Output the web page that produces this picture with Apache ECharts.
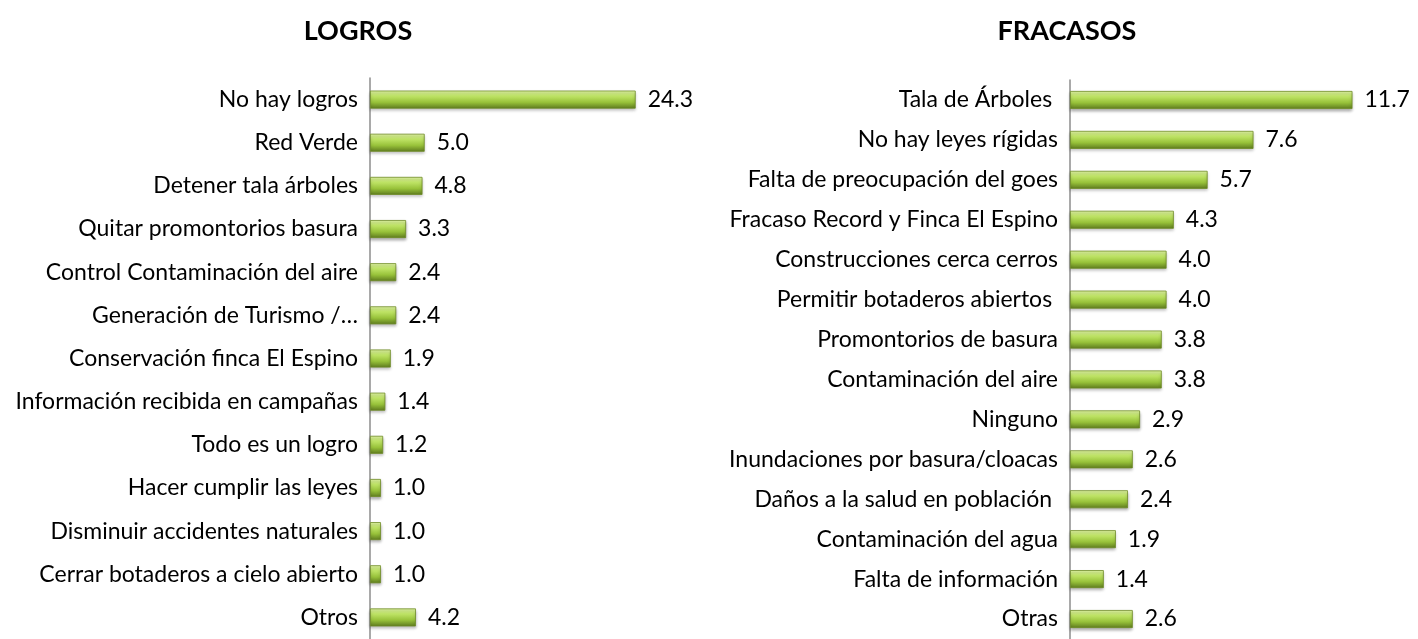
<!DOCTYPE html>
<html>
<head>
<meta charset="utf-8">
<script src="https://cdn.jsdelivr.net/npm/echarts@6/dist/echarts.min.js"></script>
<style>
  html, body { margin: 0; padding: 0; background: #fff; }
  #chart { width: 1418px; height: 639px; }
</style>
</head>
<body>
<div id="chart"></div>
<script>
// datos
const logrosCats = [
  'No hay logros', 'Red Verde', 'Detener tala árboles', 'Quitar promontorios basura',
  'Control Contaminación del aire', 'Generación de Turismo /…', 'Conservación finca El Espino',
  'Información recibida en campañas', 'Todo es un logro', 'Hacer cumplir las leyes',
  'Disminuir accidentes naturales', 'Cerrar botaderos a cielo abierto', 'Otros'
]
const logrosVals = [24.3, 5.0, 4.8, 3.3, 2.4, 2.4, 1.9, 1.4, 1.2, 1.0, 1.0, 1.0, 4.2]

const fracasosCats = [
  'Tala de Árboles ', 'No hay leyes rígidas', 'Falta de preocupación del goes',
  'Fracaso Record y Finca El Espino', 'Construcciones cerca cerros', 'Permitir botaderos abiertos ',
  'Promontorios de basura', 'Contaminación del aire', 'Ninguno', 'Inundaciones por basura/cloacas',
  'Daños a la salud en población ', 'Contaminación del agua', 'Falta de información', 'Otras'
]
const fracasosVals = [11.7, 7.6, 5.7, 4.3, 4.0, 4.0, 3.8, 3.8, 2.9, 2.6, 2.4, 1.9, 1.4, 2.6]

const chart = echarts.init(document.getElementById('chart'))

const FONT = 'Lato'

// relleno tipo 3D de Excel
const barColor = new echarts.graphic.LinearGradient(0, 0, 0, 1, [
  { offset: 0, color: '#e4f8a8' },
  { offset: 0.3, color: '#bfe466' },
  { offset: 0.65, color: '#98c23a' },
  { offset: 1, color: '#5d7a1e' }
])

const makeSeries = (vals, idx) => ({
  type: 'bar',
  xAxisIndex: idx,
  yAxisIndex: idx,
  data: vals,
  barWidth: 18,
  itemStyle: {
    color: barColor,
    borderColor: '#6e8c26',
    borderWidth: 0.8,
    shadowColor: 'rgba(0,0,0,0.3)',
    shadowBlur: 3,
    shadowOffsetY: 2
  },
  label: {
    show: true,
    position: 'right',
    distance: 12,
    formatter: p => p.value.toFixed(1),
    fontFamily: FONT,
    fontSize: 23,
    color: '#000'
  }
})

const catAxis = (cats, idx) => ({
  type: 'category',
  gridIndex: idx,
  data: cats,
  inverse: true,
  axisLine: { show: true, lineStyle: { color: '#8c8c8c', width: 1.5 } },
  axisTick: { show: false },
  axisLabel: { fontFamily: FONT, fontSize: 23, color: '#000', margin: 12 }
})

const valAxis = (max, idx) => ({
  type: 'value',
  gridIndex: idx,
  min: 0,
  max: max,
  show: false,
  splitLine: { show: false }
})

chart.setOption({
  animation: false,
  title: [
    { text: 'LOGROS', left: 353, top: 13, textAlign: 'center',
      textStyle: { fontFamily: FONT, fontSize: 27, fontWeight: 'bold', color: '#000' } },
    { text: 'FRACASOS', left: 1062, top: 13, textAlign: 'center',
      textStyle: { fontFamily: FONT, fontSize: 27, fontWeight: 'bold', color: '#000' } }
  ],
  grid: [
    { left: 370, top: 78, width: 328, bottom: -6 },
    { left: 1070, top: 80, width: 338, bottom: -4 }
  ],
  xAxis: [valAxis(30, 0), valAxis(14, 1)],
  yAxis: [catAxis(logrosCats, 0), catAxis(fracasosCats, 1)],
  series: [makeSeries(logrosVals, 0), makeSeries(fracasosVals, 1)]
})
</script>
</body>
</html>
